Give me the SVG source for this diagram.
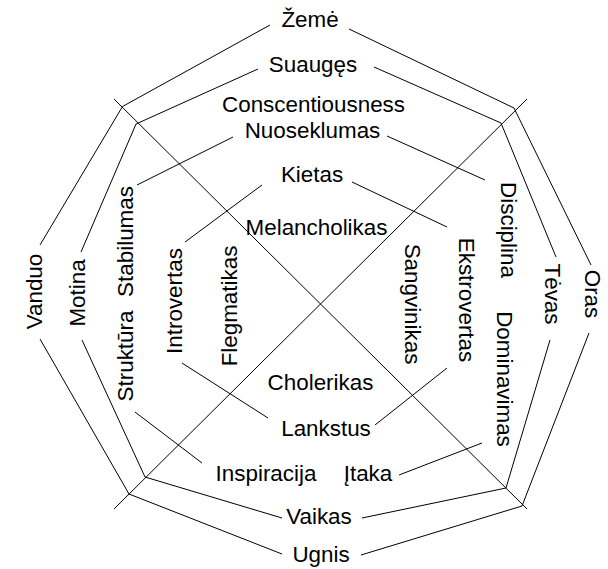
<svg xmlns="http://www.w3.org/2000/svg" width="608" height="569" viewBox="0 0 608 569">
<style>
text{font-family:"Liberation Sans",Arial,sans-serif;font-size:22.4px;fill:#000;text-anchor:middle}
.c{fill:none;stroke:#000;stroke-width:1}
</style>
<rect width="608" height="569" fill="#fff"/>
<g id="connectors">
<polyline class="c" points="270,25 122.5,106.5 40,245"/>
<polyline class="c" points="349,29 514,108 591,265"/>
<polyline class="c" points="589,333 522,506 361,555"/>
<polyline class="c" points="282,554 129,494 40,339"/>
<polyline class="c" points="258,69 136,124 81,252"/>
<polyline class="c" points="374,67 501,123 556,257"/>
<polyline class="c" points="550,340 506,488 362,518"/>
<polyline class="c" points="282,518 145,477 82,340"/>
<line class="c" x1="114" y1="99" x2="527" y2="509"/>
<line class="c" x1="527" y1="99" x2="114" y2="509"/>
<line class="c" x1="233" y1="137" x2="137" y2="185"/>
<line class="c" x1="387" y1="136" x2="485" y2="180"/>
<line class="c" x1="262" y1="185" x2="185" y2="242"/>
<line class="c" x1="352" y1="182" x2="447" y2="227"/>
<line class="c" x1="182" y1="363" x2="268" y2="418"/>
<line class="c" x1="447" y1="368" x2="375" y2="425"/>
<line class="c" x1="135" y1="412" x2="202" y2="463"/>
<line class="c" x1="399" y1="475" x2="482" y2="443"/>
</g>
<g id="zeme"><text x="310" y="27">Žemė</text></g>
<g id="suauges"><text x="313" y="72">Suaugęs</text></g>
<g id="conscentiousness"><text x="313.5" y="112">Conscentiousness</text></g>
<g id="nuoseklumas"><text x="312.5" y="138">Nuoseklumas</text></g>
<g id="kietas"><text x="312" y="182">Kietas</text></g>
<g id="melancholikas"><text x="316.5" y="235">Melancholikas</text></g>
<g id="cholerikas"><text x="320.5" y="390">Cholerikas</text></g>
<g id="lankstus"><text x="326" y="436">Lankstus</text></g>
<g id="inspiracija"><text x="266" y="481">Inspiracija</text></g>
<g id="itaka"><text x="368" y="481">Įtaka</text></g>
<g id="vaikas"><text x="319" y="524">Vaikas</text></g>
<g id="ugnis"><text x="321" y="562">Ugnis</text></g>
<g id="vanduo"><text transform="translate(41.5,291.5) rotate(-90)">Vanduo</text></g>
<g id="motina"><text transform="translate(84.5,293) rotate(-90)">Motina</text></g>
<g id="struktura"><text transform="translate(133,356) rotate(-90)">Struktūra</text></g>
<g id="stabilumas"><text transform="translate(133,241.5) rotate(-90)">Stabilumas</text></g>
<g id="introvertas"><text transform="translate(181.5,301) rotate(-90)">Introvertas</text></g>
<g id="flegmatikas"><text transform="translate(236.5,306) rotate(-90)">Flegmatikas</text></g>
<g id="sangvinikas"><text transform="translate(405,304) rotate(90)">Sangvinikas</text></g>
<g id="ekstrovertas"><text transform="translate(459,300) rotate(90)">Ekstrovertas</text></g>
<g id="disciplina"><text transform="translate(500.5,230) rotate(90)">Disciplina</text></g>
<g id="dominavimas"><text transform="translate(497,379) rotate(90)">Dominavimas</text></g>
<g id="tevas"><text transform="translate(545,294) rotate(90)">Tėvas</text></g>
<g id="oras"><text transform="translate(584.5,294) rotate(90)">Oras</text></g>
</svg>
